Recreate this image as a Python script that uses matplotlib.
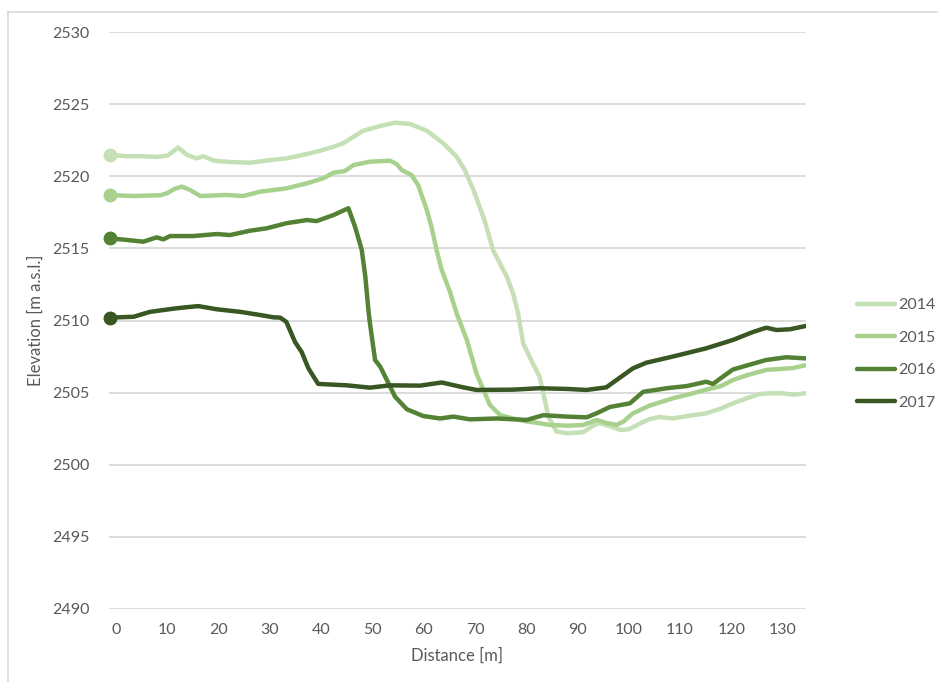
import matplotlib
matplotlib.use("Agg")
import matplotlib.pyplot as plt
from matplotlib.lines import Line2D

plt.rcParams["font.family"] = ["Lato", "DejaVu Sans"]

# Cross-section profiles: distance [m] and elevation [m a.s.l.] per survey year
dist_2014 = [-1.2, 2, 5, 8, 10, 11, 12.1, 13.8, 15.7, 17, 19, 22, 26.1, 29.4, 33.2, 37.2, 40,
             42.4, 44.3, 46.3, 48.2, 51.5, 54.4, 57.3, 60.6, 63.8, 66.4, 68.0, 69.7, 71.9, 73.5,
             75.2, 76.2, 77.4, 78.4, 79.4, 81.3, 82.6, 83.6, 84.3, 85.9, 88, 91.1, 93, 94.3, 96,
             98.4, 100, 102.3, 104, 106, 108.6, 111, 115.1, 118, 120.3, 123, 125.5, 128, 130,
             132, 134.5]
elev_2014 = [2521.5, 2521.4, 2521.4, 2521.35, 2521.45, 2521.7, 2522.0, 2521.5, 2521.25, 2521.4,
             2521.1, 2521.0, 2520.95, 2521.1, 2521.25, 2521.55, 2521.8, 2522.06, 2522.3, 2522.75,
             2523.17, 2523.5, 2523.73, 2523.64, 2523.17, 2522.3, 2521.37, 2520.44, 2519.06,
             2516.9, 2514.9, 2513.73, 2513.04, 2511.9, 2510.5, 2508.4, 2507.0, 2506.1, 2504.5,
             2503.33, 2502.3, 2502.17, 2502.25, 2502.7, 2502.87, 2502.7, 2502.4, 2502.45,
             2502.87, 2503.15, 2503.3, 2503.2, 2503.35, 2503.56, 2503.9, 2504.25, 2504.6,
             2504.9, 2504.95, 2504.95, 2504.85, 2504.95]

dist_2015 = [-1.2, 3.4, 8.6, 9.9, 11.5, 12.8, 14.4, 16.4, 21.6, 24.8, 28.1, 33.2, 37.2, 40.4,
             42.4, 44.6, 46.3, 49.5, 53.4, 54.7, 55.7, 57.6, 58.9, 60.6, 61.5, 62.5, 63.5, 65.1,
             66.4, 68.4, 70.3, 72.9, 74.9, 77.4, 80, 82.6, 84.6, 88, 91.1, 93.7, 95.5, 97.6, 99,
             100.8, 104.1, 108.6, 112, 115.1, 118, 120.3, 123, 126.8, 130, 132, 134.5]
elev_2015 = [2518.7, 2518.64, 2518.69, 2518.83, 2519.15, 2519.29, 2519.06, 2518.64, 2518.71,
             2518.64, 2518.94, 2519.17, 2519.52, 2519.87, 2520.26, 2520.37, 2520.79, 2521.02,
             2521.09, 2520.86, 2520.44, 2520.1, 2519.4, 2517.67, 2516.5, 2514.9, 2513.5, 2512.0,
             2510.5, 2508.65, 2506.3, 2504.14, 2503.43, 2503.2, 2503.0, 2502.87, 2502.75, 2502.7,
             2502.75, 2503.1, 2502.9, 2502.75, 2503.0, 2503.56, 2504.1, 2504.6, 2504.9, 2505.2,
             2505.45, 2505.87, 2506.2, 2506.57, 2506.65, 2506.7, 2506.9]

dist_2016 = [-1.2, 2.1, 5.3, 7.9, 9.2, 10.5, 15, 19.6, 22.2, 26.1, 29.4, 33.2, 37.2, 39.1, 42.4,
             45.3, 46.6, 47.9, 48.6, 49.2, 49.5, 50.5, 51.5, 52.8, 54.4, 56.7, 59.9, 63.2, 65.8,
             69, 74.2, 80.1, 83.3, 87.9, 91.8, 93.7, 96.3, 100.2, 102.8, 107.4, 111.3, 115.1,
             116.4, 120.3, 124.2, 126.8, 130.7, 134.5]
elev_2016 = [2515.7, 2515.59, 2515.47, 2515.77, 2515.63, 2515.86, 2515.86, 2516.0, 2515.93,
             2516.23, 2516.4, 2516.75, 2516.97, 2516.9, 2517.32, 2517.79, 2516.5, 2514.9,
             2513.04, 2510.73, 2509.8, 2507.26, 2506.8, 2505.87, 2504.71, 2503.84, 2503.37,
             2503.2, 2503.33, 2503.14, 2503.2, 2503.1, 2503.43, 2503.33, 2503.28, 2503.56,
             2504.0, 2504.25, 2505.05, 2505.3, 2505.45, 2505.75, 2505.6, 2506.6, 2507.0,
             2507.26, 2507.45, 2507.37]

dist_2017 = [-1.2, 3.4, 6.6, 11.8, 16.0, 19.6, 24.2, 28.1, 30.7, 32, 33.2, 34.9, 36.2, 37.5,
             39.4, 45, 49.5, 53.4, 59.3, 63.5, 67.7, 70.3, 77.4, 82.6, 88, 91.7, 95.6, 97.6,
             100.8, 103.4, 108.6, 115.1, 120.3, 124.2, 126.8, 128.8, 131.4, 134.5]
elev_2017 = [2510.2, 2510.26, 2510.6, 2510.85, 2511.0, 2510.78, 2510.6, 2510.38, 2510.22,
             2510.2, 2509.9, 2508.5, 2507.8, 2506.68, 2505.6, 2505.5, 2505.34, 2505.5, 2505.48,
             2505.7, 2505.36, 2505.18, 2505.2, 2505.3, 2505.25, 2505.18, 2505.36, 2505.87,
             2506.68, 2507.07, 2507.5, 2508.07, 2508.65, 2509.2, 2509.5, 2509.34, 2509.39,
             2509.62]

years = ["2014", "2015", "2016", "2017"]
colors = ["#C5E0B4", "#A9D18E", "#548235", "#385723"]
profiles = [(dist_2014, elev_2014), (dist_2015, elev_2015),
            (dist_2016, elev_2016), (dist_2017, elev_2017)]

x_ticks = list(range(0, 131, 10))
y_ticks = list(range(2490, 2531, 5))

TEXT = "#595959"
GRID = "#D9D9D9"
FS = 11.5

fig = plt.figure(figsize=(9.38, 6.82), dpi=100)
W, H = 938, 682
ax = fig.add_axes([109 / W, 1 - 608.7 / H, (805.7 - 109) / W, (608.7 - 32.3) / H])

for (d, e), yr, c in zip(profiles, years, colors):
    ax.plot(d, e, color=c, lw=3.2, label=yr, solid_joinstyle="round",
            solid_capstyle="round", zorder=3)
    ax.plot(d[:1], e[:1], "o", color=c, ms=9, clip_on=False, zorder=4)

ax.set_xlim(-1.4, 134.5)
ax.set_ylim(2490, 2530)
ax.set_xticks(x_ticks)
ax.set_yticks(y_ticks)
ax.grid(axis="y", color=GRID, lw=1.3)
ax.set_axisbelow(True)
for s in ax.spines.values():
    s.set_visible(False)
ax.tick_params(length=0, labelsize=FS, labelcolor=TEXT)
ax.tick_params(axis="y", pad=14)
ax.tick_params(axis="x", pad=10)

ax.set_xlabel("Distance [m]", fontsize=12, color=TEXT, labelpad=8)
ax.set_ylabel("Elevation [m a.s.l.]", fontsize=12, color=TEXT, labelpad=6)

leg = ax.legend(loc="upper left", bbox_to_anchor=(857 / W, 1 - 298 / H),
                bbox_transform=fig.transFigure, frameon=False, fontsize=FS,
                handlelength=2.4, handletextpad=0.2, labelspacing=1.15,
                borderpad=0, borderaxespad=0)
for t in leg.get_texts():
    t.set_color(TEXT)

# Chart area frame (top and left edges)
fig.add_artist(Line2D([8 / W, 1.0], [1 - 12 / H, 1 - 12 / H], color=GRID, lw=1.2,
                      transform=fig.transFigure))
fig.add_artist(Line2D([8 / W, 8 / W], [0.0, 1 - 12 / H], color=GRID, lw=1.2,
                      transform=fig.transFigure))

fig.savefig("out.png", dpi=100)
